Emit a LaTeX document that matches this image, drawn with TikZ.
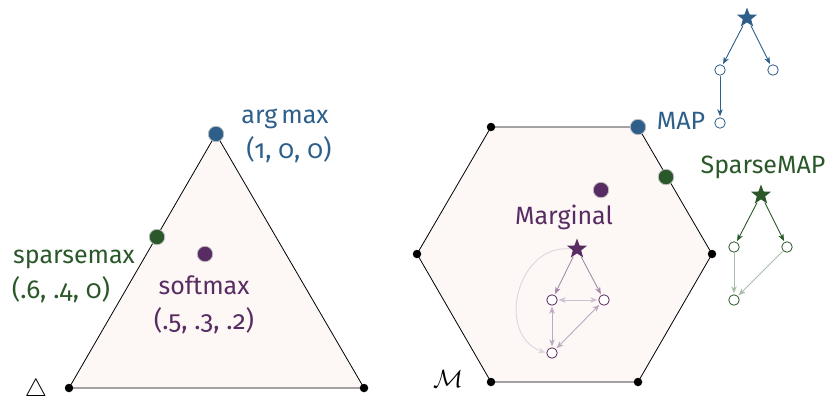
\documentclass[tikz,border=0pt]{standalone}
\usepackage{fontspec}
\setsansfont{Fira Sans}
\newfontfamily\osffont[Numbers=OldStyle]{Fira Sans}
\usetikzlibrary{shapes.geometric, arrows.meta}
\definecolor{mapblue}{RGB}{45,95,138}
\definecolor{sparsegreen}{RGB}{42,88,42}
\definecolor{margpurple}{RGB}{88,44,98}
\definecolor{polyfill}{RGB}{253,248,246}
\tikzset{
  vert/.style={circle, fill=black, inner sep=0pt, minimum size=8.5pt},
  sol/.style={circle, fill=#1, draw=gray!50, line width=0.8pt, inner sep=0pt, minimum size=15.5pt},
  tnode/.style={circle, draw=#1, fill=white, line width=0.8pt, inner sep=0pt, minimum size=10.5pt},
  troot/.style={star, star points=5, star point ratio=2.4, fill=#1, inner sep=0pt, minimum size=21pt},
  lbl/.style={anchor=base, font=\sffamily\fontsize{25}{29}\selectfont, text=#1},
  num/.style={anchor=base, font=\osffont\fontsize{26}{30}\selectfont, text=#1},
  tedge/.style={->, draw=#1, line width=0.9pt, shorten >=1pt, shorten <=1pt},
}
\begin{document}
\begin{tikzpicture}[x=1pt, y=-1pt, >={Stealth[length=7pt, width=5.5pt, inset=2pt]}, line join=round, line cap=round]
\useasboundingbox (0,0) rectangle (830,400);
% simplex
\coordinate (ta) at (69,388);
\coordinate (tb) at (364,388);
\coordinate (tc) at (216,134);
\draw[fill=polyfill, line width=0.8pt] (ta) -- (tb) -- (tc) -- cycle;
\node[vert] (va) at (ta) {};
\node[vert] (vb) at (tb) {};
\node (simplex) at (36,390) {\fontsize{27}{29}\selectfont$\triangle$};
\node[sol=mapblue] (argmax) at (tc) {};
\node[sol=sparsegreen] (sparsemax) at (157,237) {};
\node[sol=margpurple] (softmax) at (205,254) {};
\node[lbl=mapblue] (argmaxlbl) at (285,123) {arg\,max};
\node[num=mapblue] (argmaxval) at (289,158) {(1, 0, 0)};
\node[lbl=sparsegreen] (sparsemaxlbl) at (74,263) {sparsemax};
\node[num=sparsegreen] (sparsemaxval) at (61,298) {(.6, .4, 0)};
\node[lbl=margpurple] (softmaxlbl) at (204,294) {softmax};
\node[num=margpurple] (softmaxval) at (204,329) {(.5, .3, .2)};
% marginal polytope
\draw[fill=polyfill, line width=0.8pt] (491,127) -- (638,127) -- (712,254) -- (638,382) -- (491,382) -- (417,254) -- cycle;
\foreach \p in {(491,127),(712,254),(638,382),(491,382),(417,254)}
  \node[vert] at \p {};
\node (polytope) at (448,379) {\fontsize{25}{27}\selectfont$\mathcal{M}$};
\node[sol=mapblue] (map) at (638,127) {};
\node[sol=sparsegreen] (sparsemap) at (666,177) {};
\node[sol=margpurple] (marg) at (601,190) {};
\node[lbl=mapblue] (maplbl) at (681,129) {MAP};
\node[lbl=sparsegreen] (sparsemaplbl) at (763,173) {SparseMAP};
\node[lbl=margpurple] (marglbl) at (564,224) {Marginal};
% MAP tree
\node[troot=mapblue] (mr) at (747,18) {};
\node[tnode=mapblue] (m1) at (720,70) {};
\node[tnode=mapblue] (m2) at (773,70) {};
\node[tnode=mapblue] (m3) at (720,123) {};
\draw[tedge=mapblue] (mr) -- (m1);
\draw[tedge=mapblue] (mr) -- (m2);
\draw[tedge=mapblue] (m1) -- (m3);
% SparseMAP tree
\node[troot=sparsegreen] (sr) at (761,195) {};
\node[tnode=sparsegreen] (s1) at (734,247) {};
\node[tnode=sparsegreen] (s2) at (787,247) {};
\node[tnode=sparsegreen] (s3) at (734,300) {};
\draw[tedge=sparsegreen] (sr) -- (s1);
\draw[tedge=sparsegreen] (sr) -- (s2);
\draw[tedge=sparsegreen!40] (s1) -- (s3);
\draw[tedge=sparsegreen!40] (s2) -- (s3);
% marginal tree
\node[troot=margpurple] (gr) at (577,249) {};
\node[tnode=margpurple] (g1) at (552,300) {};
\node[tnode=margpurple] (g2) at (604,300) {};
\node[tnode=margpurple] (g3) at (552,353) {};
\draw[tedge=margpurple!55] (gr) -- (g1);
\draw[tedge=margpurple!55] (gr) -- (g2);
\draw[tedge=margpurple!30, <->] (g1) -- (g2);
\draw[tedge=margpurple!40, <->] (g1) -- (g3);
\draw[tedge=margpurple!40, <->] (g2) -- (g3);
\draw[tedge=margpurple!20] (gr.west) to[out=175, in=160, looseness=1.3] (g3.west);
\end{tikzpicture}
\end{document}
